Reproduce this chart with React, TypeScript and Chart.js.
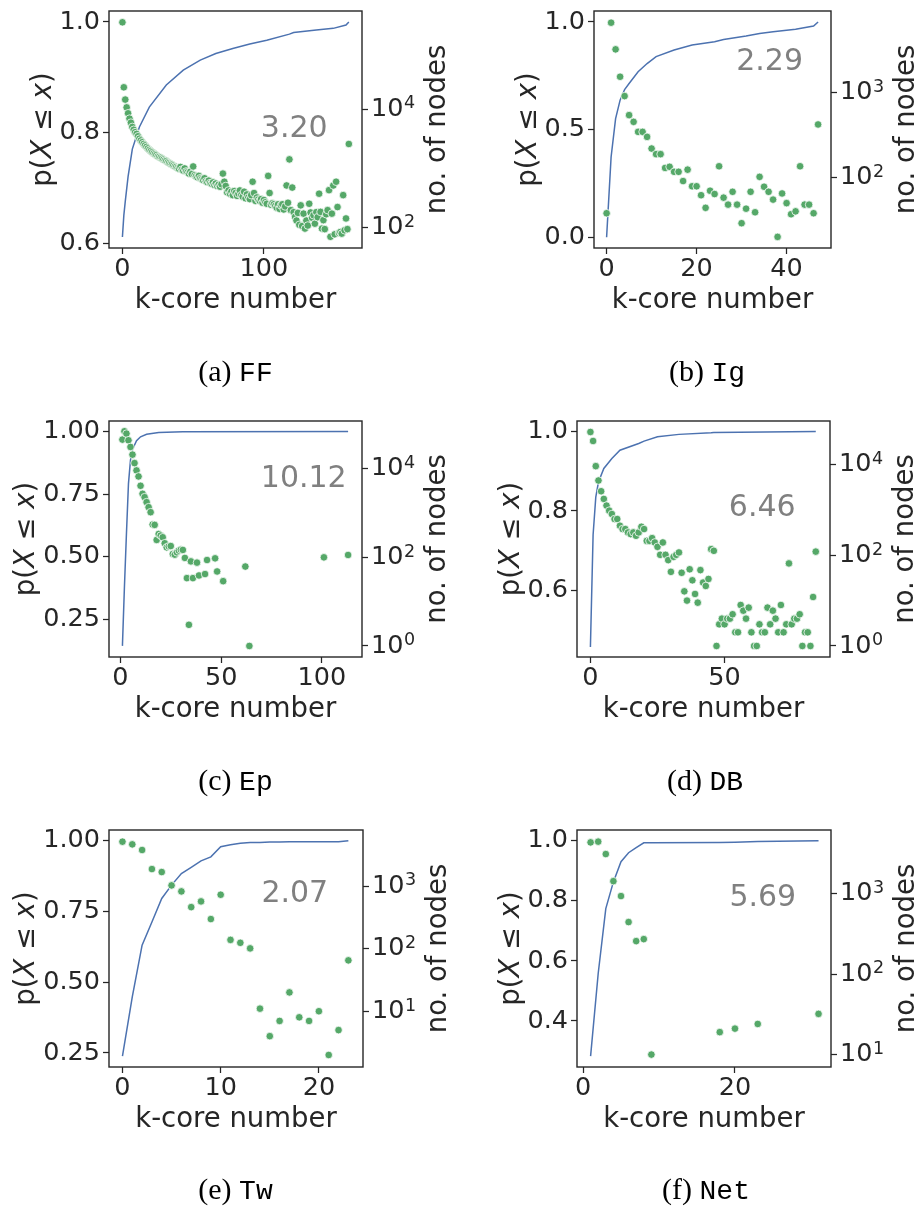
import React, { useEffect, useRef } from "react";
import { Chart, registerables } from "chart.js";

Chart.register(...registerables);

const INK = "#262626";
const BLUE = "#4c72b0";
const GREEN = "#55a868";
const GRAY = "#808080";
const SANS = "'DejaVu Sans', sans-serif";
const TICK_PX = 25.5;
const SUP_PX = 17.5;
const LABEL_PX = 27.5;
const STAT_PX = 30;

const X_TITLE = "k-core number";
const R_TITLE = "no. of nodes";

// ---------- (a) FF : node counts for k = 0..160 (index = k-core number)
const ffNodes = [
  295000, 23400, 14500, 10700, 8500, 6900, 5900, 5000, 4470, 4070,
  3800, 3470, 3160, 2950, 2750, 2570, 2430, 2290, 2160, 2040,
  1950, 1860, 1780, 1720, 1660, 1580, 1550, 1500, 1450, 1400,
  1350, 1320, 1260, 1220, 1175, 1150, 1110, 1070, 1050, 1010,
  980, 1050, 945, 910, 990, 880, 850, 810, 870, 795,
  1070, 760, 725, 700, 740, 675, 650, 630, 675, 600,
  580, 615, 560, 545, 575, 520, 550, 500, 525, 485,
  535, 810, 590, 500, 390, 420, 370, 400, 350, 410,
  380, 340, 370, 420, 350, 330, 400, 310, 360, 320,
  300, 350, 590, 380, 280, 320, 295, 280, 300, 260,
  290, 265, 250, 740, 380, 240, 255, 245, 230, 215,
  245, 205, 235, 245, 200, 225, 510, 260, 1410, 195,
  470, 180, 150, 130, 175, 110, 235, 105, 170, 95,
  130, 107, 250, 178, 145, 160, 115, 180, 148, 370,
  182, 95, 132, 93, 166, 195, 425, 69, 170, 510,
  76, 590, 220, 80, 83, 78, 350, 89, 141, 93,
  2570,
];
const ffCdfK = [0, 1, 2, 4, 7, 12, 19, 31, 43, 55, 66, 78, 90, 102, 118, 121, 137, 149, 158, 160];
const ffCdfP = [0.611, 0.65, 0.675, 0.72, 0.77, 0.81, 0.846, 0.886, 0.913, 0.931, 0.943, 0.952, 0.96, 0.967, 0.978, 0.981, 0.9855, 0.9885, 0.9946, 1.0];
const ffXTicks = [0, 100];
const ffPTicks = [0.6, 0.8, 1.0];
const ffNTicks = [1e2, 1e4];

// ---------- (b) Ig : node counts for k = 0..47
const igNodes = [
  38, 6700, 3250, 1545, 914, 545, 454, 346, 346, 302,
  220, 189, 189, 130, 134, 117, 117, 91, 124, 79,
  79, 62, 44, 70, 64, 136, 58, 48, 68, 48,
  29, 43, 68, 39, 102, 78, 68, 55, 20, 65,
  50, 37, 40, 136, 48, 48, 38, 423,
];
const igCdfK = [0, 1, 2, 3, 4, 5, 7, 9, 11, 15, 19, 24, 26, 31, 34, 37, 42, 46, 47];
const igCdfP = [0.0, 0.373, 0.551, 0.637, 0.686, 0.714, 0.769, 0.807, 0.839, 0.87, 0.893, 0.908, 0.919, 0.935, 0.947, 0.955, 0.966, 0.981, 1.0];
const igXTicks = [0, 20, 40];
const igPTicks = [0.0, 0.5, 1.0];
const igNTicks = [1e2, 1e3];

// ---------- (c) Ep
const epK = [
  1, 2, 3, 4, 5, 6, 7, 8, 9, 10,
  11, 12, 13, 14, 15, 16, 17, 18, 19, 20,
  21, 22, 23, 24, 25, 26, 27, 28, 29, 30,
  31, 32, 33, 34, 35, 36, 38, 39, 42, 43,
  47, 48, 51, 62, 64, 101, 113,
];
const epNodes = [
  45400, 70000, 62000, 43800, 31000, 20800, 13400, 9160, 6700, 4120,
  2720, 2280, 1760, 1355, 1045, 550, 540, 247, 337, 310,
  284, 208, 168, 177, 180, 119, 115, 130, 142, 149,
  147, 97, 34, 3, 81, 34, 76, 39, 42, 87,
  95, 48, 29, 62, 1, 100, 113,
];
const epCdfK = [1, 2, 3, 4, 5, 6, 8, 10, 13, 19, 31, 113];
const epCdfP = [0.144, 0.38, 0.593, 0.792, 0.886, 0.928, 0.963, 0.979, 0.989, 0.996, 0.999, 1.0];
const epXTicks = [0, 50, 100];
const epPTicks = [0.25, 0.5, 0.75, 1.0];
const epNTicks = [1e0, 1e2, 1e4];

// ---------- (d) DB : node counts for k = 0..84
const dbNodes = [
  52000, 32900, 9190, 4430, 2570, 1740, 1240, 960, 808, 627,
  627, 447, 377, 377, 318, 292, 318, 268, 318, 424,
  377, 207, 207, 238, 191, 153, 102, 191, 102, 78,
  43, 92, 102, 115, 41, 16, 10, 49, 28, 14,
  9, 47, 25, 21, 30, 136, 125, 1, 3, 4,
  3, 4, 4, 5, 2, 2, 8, 6, 4, 7,
  2, 1, 1, 3, 2, 2, 7, 3, 6, 4,
  2, 8, 2, 3, 66, 3, 4, 4, 5, 1,
  2, 2, 1, 12, 120,
];
const dbCdfK = [0, 1, 2, 3, 5, 8, 11, 18, 20, 25, 33, 45, 46, 84];
const dbCdfP = [0.457, 0.74, 0.835, 0.873, 0.907, 0.932, 0.953, 0.97, 0.976, 0.987, 0.993, 0.997, 0.998, 1.0];
const dbXTicks = [0, 50];
const dbPTicks = [0.6, 0.8, 1.0];
const dbNTicks = [1e0, 1e2, 1e4];

// ---------- (e) Tw : node counts for k = 0..23
const twNodes = [
  5120, 4640, 3770, 1870, 1675, 1025, 822, 461, 569, 297,
  727, 138, 124, 101, 11, 4, 7, 20, 8, 7,
  10, 2, 5, 65,
];
const twCdfP = [
  0.239, 0.448, 0.631, 0.713, 0.796, 0.843, 0.884, 0.906, 0.929, 0.943,
  0.979, 0.986, 0.991, 0.994, 0.994, 0.995, 0.995, 0.996, 0.996, 0.996,
  0.996, 0.996, 0.996, 1.0,
];
const twXTicks = [0, 10, 20];
const twPTicks = [0.25, 0.5, 0.75, 1.0];
const twNTicks = [1e1, 1e2, 1e3];

// ---------- (f) Net
const netK = [1, 2, 3, 4, 5, 6, 7, 8, 9, 18, 20, 23, 31];
const netNodes = [4300, 4390, 3080, 1420, 927, 441, 256, 271, 10, 19, 21, 24, 32];
const netCdfK = [1, 2, 3, 4, 5, 6, 7, 8, 9, 18, 20, 23, 31];
const netCdfP = [0.283, 0.558, 0.774, 0.863, 0.93, 0.96, 0.977, 0.993, 0.993, 0.994, 0.995, 0.997, 1.0];
const netXTicks = [0, 20];
const netPTicks = [0.4, 0.6, 0.8, 1.0];
const netNTicks = [1e1, 1e2, 1e3];

const letters = ["a", "b", "c", "d", "e", "f"];
const names = ["FF", "Ig", "Ep", "DB", "Tw", "Net"];
const stats = ["3.20", "2.29", "10.12", "6.46", "2.07", "5.69"];

const idx = (arr: number[]) => arr.map((_, i) => i);
const exponentOf = (v: number) => Math.round(Math.log10(v));

type Spec = {
  i: number;
  box: number[];
  x: number[];
  xTicks: number[];
  p: number[];
  pTicks: number[];
  pDigits: number;
  n: number[];
  nTicks: number[];
  nodesK: number[];
  nodes: number[];
  cdfK: number[];
  cdfP: number[];
  statY: number;
  cap: number[];
};

const specs: Spec[] = [
  { i: 0, box: [109, 11, 253, 237], x: [-9.48, 169.3], xTicks: ffXTicks, p: [0.591, 1.0199], pTicks: ffPTicks, pDigits: 1, n: [1.649, 5.661], nTicks: ffNTicks, nodesK: idx(ffNodes), nodes: ffNodes, cdfK: ffCdfK, cdfP: ffCdfP, statY: 0.498, cap: [235.5, 381] },
  { i: 1, box: [594, 11, 237, 237], x: [-2.8, 49.87], xTicks: igXTicks, p: [-0.0498, 1.051], pTicks: igPTicks, pDigits: 1, n: [1.17, 3.964], nTicks: igNTicks, nodesK: idx(igNodes), nodes: igNodes, cdfK: igCdfK, cdfP: igCdfP, statY: 0.214, cap: [707, 381] },
  { i: 2, box: [109, 421, 253, 236], x: [-5.66, 119.9], xTicks: epXTicks, p: [0.0995, 1.042], pTicks: epPTicks, pDigits: 2, n: [-0.249, 5.077], nTicks: epNTicks, nodesK: epK, nodes: epNodes, cdfK: epCdfK, cdfP: epCdfP, statY: 0.246, cap: [235.5, 790] },
  { i: 3, box: [577, 421, 253, 236], x: [-5.0, 89.3], xTicks: dbXTicks, p: [0.432, 1.0267], pTicks: dbPTicks, pDigits: 1, n: [-0.243, 4.958], nTicks: dbNTicks, nodesK: idx(dbNodes), nodes: dbNodes, cdfK: dbCdfK, cdfP: dbCdfP, statY: 0.368, cap: [705, 790] },
  { i: 4, box: [109, 830, 254, 237], x: [-1.37, 24.49], xTicks: twXTicks, p: [0.2005, 1.0378], pTicks: twPTicks, pDigits: 2, n: [0.109, 3.896], nTicks: twNTicks, nodesK: idx(twNodes), nodes: twNodes, cdfK: idx(twCdfP), cdfP: twCdfP, statY: 0.273, cap: [235.5, 1199] },
  { i: 5, box: [577, 830, 254, 237], x: [-0.79, 32.64], xTicks: netXTicks, p: [0.2467, 1.0357], pTicks: netPTicks, pDigits: 1, n: [0.846, 3.787], nTicks: netNTicks, nodesK: netK, nodes: netNodes, cdfK: netCdfK, cdfP: netCdfP, statY: 0.288, cap: [706, 1199] },
];

const L = 140;
const R = 110;
const T = 40;
const B = 150;
const TICK_LEN = 6;
const TICK_PAD = 3;

function drawRich(ctx: CanvasRenderingContext2D, parts: { t: string; it: boolean }[], size: number) {
  const fontOf = (it: boolean) => `${it ? "italic " : ""}${size}px ${SANS}`;
  let total = 0;
  const widths = parts.map((p) => {
    ctx.font = fontOf(p.it);
    const w = ctx.measureText(p.t).width;
    total += w;
    return w;
  });
  let x = -total / 2;
  parts.forEach((p, k) => {
    ctx.font = fontOf(p.it);
    ctx.fillText(p.t, x, 0);
    x += widths[k];
  });
}

function Panel({ spec }: { spec: Spec }) {
  const ref = useRef<HTMLCanvasElement | null>(null);
  const [bl, bt, bw, bh] = spec.box;
  const cw = L + bw + R;
  const ch = T + bh + B;
  const ox = bl - L;
  const oy = bt - T;

  useEffect(() => {
    const canvas = ref.current;
    if (!canvas) return;
    const tickFont = { family: SANS, size: TICK_PX };
    const grid = {
      display: true,
      drawOnChartArea: false,
      drawTicks: true,
      tickLength: TICK_LEN,
      tickWidth: 1.25,
      tickColor: INK,
    };

    const decor = {
      id: "decor" + spec.i,
      afterDatasetsDraw(chart: any) {
        const { ctx, chartArea: a } = chart;
        ctx.save();
        ctx.strokeStyle = INK;
        ctx.lineWidth = 1.4;
        ctx.strokeRect(a.left, a.top, a.right - a.left, a.bottom - a.top);
        ctx.restore();
      },
      afterDraw(chart: any) {
        const { ctx, chartArea: a } = chart;
        const cy = (a.top + a.bottom) / 2;
        ctx.save();
        ctx.fillStyle = INK;
        ctx.textBaseline = "alphabetic";

        // exponents of the log-axis tick labels (10^n)
        const rs = chart.scales.y2;
        ctx.font = `${TICK_PX}px ${SANS}`;
        const baseW = ctx.measureText("10").width;
        ctx.font = `${SUP_PX}px ${SANS}`;
        ctx.textAlign = "left";
        rs.ticks.forEach((t: any) => {
          const py = rs.getPixelForValue(t.value);
          ctx.fillText(String(exponentOf(t.value)), a.right + TICK_LEN + TICK_PAD + baseW + 0.5, py + 8.8 - 9.5);
        });

        // x title
        ctx.font = `${LABEL_PX}px ${SANS}`;
        ctx.textAlign = "center";
        ctx.fillText(X_TITLE, (a.left + a.right) / 2, a.bottom + 59.6);

        // left title p(X <= x)
        ctx.font = `${TICK_PX}px ${SANS}`;
        const ys = chart.scales.y;
        const maxW = Math.max(...ys.ticks.map((t: any) => ctx.measureText(String(t.label)).width));
        ctx.save();
        ctx.translate(a.left - maxW - 17.8, cy);
        ctx.rotate(-Math.PI / 2);
        ctx.textAlign = "left";
        drawRich(
          ctx,
          [
            { t: "p(", it: false },
            { t: "X", it: true },
            { t: " \u2264 ", it: false },
            { t: "x", it: true },
            { t: ")", it: false },
          ],
          LABEL_PX
        );
        ctx.restore();

        // right title
        ctx.save();
        ctx.translate(a.right + 83, cy);
        ctx.rotate(-Math.PI / 2);
        ctx.textAlign = "center";
        ctx.font = `${LABEL_PX}px ${SANS}`;
        ctx.fillText(R_TITLE, 0, 0);
        ctx.restore();

        // statistic
        ctx.fillStyle = GRAY;
        ctx.font = `${STAT_PX}px ${SANS}`;
        ctx.textAlign = "left";
        ctx.textBaseline = "middle";
        ctx.fillText(stats[spec.i], a.left + 0.6 * (a.right - a.left), a.top + spec.statY * (a.bottom - a.top));

        // caption
        ctx.fillStyle = "#000";
        ctx.textBaseline = "alphabetic";
        ctx.textAlign = "left";
        const serif = "30px 'Liberation Serif', serif";
        const mono = "28px 'Liberation Mono', monospace";
        const s1 = `(${letters[spec.i]}) `;
        const s2 = names[spec.i];
        ctx.font = serif;
        const w1 = ctx.measureText(s1).width;
        ctx.font = mono;
        const w2 = ctx.measureText(s2).width;
        const cx = spec.cap[0] - ox;
        const by = spec.cap[1] - oy;
        const x0 = cx - (w1 + w2) / 2;
        ctx.font = serif;
        ctx.fillText(s1, x0, by);
        ctx.font = mono;
        ctx.fillText(s2, x0 + w1, by);
        ctx.restore();
      },
    };

    const chart = new Chart(canvas, {
      type: "scatter",
      data: {
        datasets: [
          {
            type: "scatter",
            data: spec.nodesK.map((k, j) => ({ x: k, y: spec.nodes[j] })),
            yAxisID: "y2",
            pointRadius: 3.8,
            pointBackgroundColor: GREEN,
            pointBorderColor: "rgba(255,255,255,0.85)",
            pointBorderWidth: 0.9,
          },
          {
            type: "line",
            data: spec.cdfK.map((k, j) => ({ x: k, y: spec.cdfP[j] })),
            yAxisID: "y",
            borderColor: BLUE,
            borderWidth: 1.5,
            pointRadius: 0,
            fill: false,
            tension: 0,
          },
        ],
      } as any,
      options: {
        responsive: false,
        maintainAspectRatio: false,
        animation: false,
        events: [],
        layout: { padding: { top: T, left: 0, right: 0, bottom: 0 } },
        plugins: { legend: { display: false }, tooltip: { enabled: false } },
        scales: {
          x: {
            type: "linear",
            position: "bottom",
            min: spec.x[0],
            max: spec.x[1],
            afterBuildTicks: (s: any) => {
              s.ticks = spec.xTicks.map((v) => ({ value: v }));
            },
            afterFit: (s: any) => {
              s.height = B;
            },
            ticks: {
              font: tickFont,
              color: INK,
              padding: 0,
              autoSkip: false,
              maxRotation: 0,
              callback: (v: any) => String(v),
            },
            grid,
            border: { display: false },
          },
          y: {
            type: "linear",
            position: "left",
            min: spec.p[0],
            max: spec.p[1],
            afterBuildTicks: (s: any) => {
              s.ticks = spec.pTicks.map((v) => ({ value: v }));
            },
            afterFit: (s: any) => {
              s.width = L;
            },
            ticks: {
              font: tickFont,
              color: INK,
              padding: TICK_PAD,
              autoSkip: false,
              callback: (v: any) => Number(v).toFixed(spec.pDigits),
            },
            grid,
            border: { display: false },
          },
          y2: {
            type: "logarithmic",
            position: "right",
            min: Math.pow(10, spec.n[0]),
            max: Math.pow(10, spec.n[1]),
            afterBuildTicks: (s: any) => {
              s.ticks = spec.nTicks.map((v) => ({ value: v }));
            },
            afterFit: (s: any) => {
              s.width = R;
            },
            ticks: {
              font: tickFont,
              color: INK,
              padding: TICK_PAD,
              autoSkip: false,
              // base of 10^n; the exponent is drawn raised by the decor plugin
              callback: () => "10",
            },
            grid,
            border: { display: false },
          },
        },
      } as any,
      plugins: [decor],
    });
    return () => chart.destroy();
  }, []);

  return (
    <canvas
      ref={ref}
      width={cw}
      height={ch}
      style={{ position: "absolute", left: ox, top: oy, width: cw, height: ch }}
    />
  );
}

export default function App() {
  return (
    <div
      style={{
        position: "absolute",
        left: 0,
        top: 0,
        width: 916,
        height: 1207,
        overflow: "hidden",
        background: "#fff",
      }}
    >
      {specs.map((s) => (
        <Panel key={s.i} spec={s} />
      ))}
    </div>
  );
}
